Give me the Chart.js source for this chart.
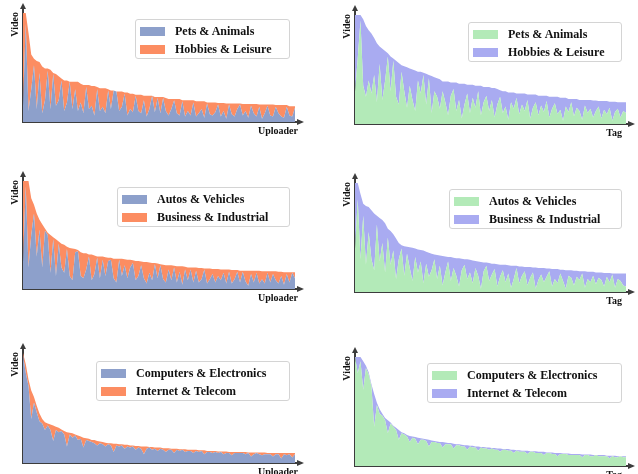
<!DOCTYPE html>
<html>
<head>
<meta charset="utf-8">
<script src="https://cdn.jsdelivr.net/npm/chart.js@4.4.1/dist/chart.umd.min.js"></script>
<style>
body{margin:0;background:#fff;width:638px;height:474px;position:relative;overflow:hidden;font-family:"Liberation Serif",serif}
canvas{position:absolute}
.lg{position:absolute;background:#fff;border:1px solid #d4d4d4;border-radius:3px;box-sizing:border-box;font-weight:bold;font-size:12px;color:#111;height:40px}
.lg div{position:absolute;left:0;height:18px;display:flex;align-items:center;white-space:nowrap}
.lg span{display:inline-block;width:25px;height:9px;margin:0 10px 0 4px}
</style>
</head>
<body>
<script>
// categories / axis titles
const pairPets = ['Pets & Animals', 'Hobbies & Leisure'];
const pairAutos = ['Autos & Vehicles', 'Business & Industrial'];
const pairComp = ['Computers & Electronics', 'Internet & Telecom'];
const xTitles = ['Uploader', 'Tag'];
const yTitle = 'Video';

// sorted totals (top of stack) and first-category counts, scaled so the largest = 100
const petsHobbiesUploaderTotal = [
  100,100,82,62,58,56,55,51,49,49, 48,45,44,42,40,38,38,37,37,37,
  37,35,34,34,34,33,33,32,31,31, 31,30,29,29,28,28,28,27,27,26,
  26,25,25,25,24,24,24,24,23,23, 23,23,22,21,21,21,21,21,20,20,
  20,20,20,19,19,19,19,18,18,18, 18,17.5,17.5,17.5,17,17,17,17,17,17,
  16.5,16.5,16.5,16.5,16.5,16.5,16,16,16,16, 16,16,15.5,15.5,15.5,15.5,15.5,14.5,14.5,14.5];
const petsUploader = [
  15,90,10,30,52,12,45,8,20,47, 12,44,15,20,38,10,18,37,12,30,
  10,18,8,32,12,15,6,30,10,14, 8,29,12,29,28,10,14,26,6,12,
  9,24,10,8,20,5,12,24,9,22, 8,22,10,6,12,20,8,6,19,5,
  10,6,18,5,8,12,4,17,7,6, 9,16,5,10,3,16,7,5,12,16,
  6,10,4,15,8,5,14,3,8,15, 6,5,14,8,5,4,14,6,5,13];

const petsHobbiesTagTotal = [
  100,100,100,96,90,86,83,79,74,71, 69,67,65,62,60,58,56,54,53,52,
  51,50,49,48,48,47,46,45,44,43, 42,41,39,39,39,38,38,38,37,37,
  37,36,36,36,35,35,35,34,34,34, 33,33,32,31,30,30,29,29,29,28,
  28,28,28,27,27,27,27,26,26,26, 26,25,25,25,25,24,24,24,23,23,
  23,23,22,22,22,22,22,21.5,21.5,21, 21,21,21,20.5,20.5,20.5,20,20,20,20];
const petsTag = [
  30,60,95,35,25,40,28,45,20,55, 22,40,62,30,58,25,18,48,30,15,
  35,22,12,40,28,45,18,42,10,30, 25,14,30,20,8,26,32,12,22,5,
  18,28,10,24,15,30,8,20,26,12, 22,6,18,25,10,16,4,20,14,24,
  9,18,12,22,5,15,20,8,17,11, 21,6,14,19,9,13,3,16,11,20,
  7,15,12,4,17,10,14,6,12,16, 5,13,9,15,3,11,14,6,12,10];

const autosBusinessUploaderTotal = [
  100,100,100,84,78,70,64,60,56,52, 50,48,46,44,42,41,39,38,37.5,37,
  36,34,33,33,32,32,31,30,30,30, 29.5,29,29,28,28,28,28,27.5,27,27,
  26.5,26,26,25.5,25,25,24.5,24,24,23.5, 23,22.5,22,22,22,21.5,21,21,21,20.5,
  20,20,20,20,19.5,19.5,19,19,19,18.5, 18.5,18.5,18,18,18,18,17.5,17.5,17.5,17,
  17,17,17,17,17,17,17,16.5,16.5,16.5, 16.5,16.5,16.5,16,16,15.5,15.5,15.5,15.5,15.5];
const autosUploader = [
  25,95,20,50,70,30,55,20,54,50, 15,46,12,42,20,15,37,12,8,34,
  35,12,10,18,30,8,14,29,10,27, 12,26,27,10,6,27,12,22,10,20,
  24,8,12,22,10,5,15,8,23,10, 22,9,6,18,8,20,6,16,4,18,
  8,18,6,17,6,9,18,5,9,14, 6,12,8,15,5,16,5,9,16,6,
  16,7,3,14,6,15,5,9,5,15, 6,14,8,5,12,4,14,6,15,10];

const autosBusinessTagTotal = [
  100,100,90,81,79,78,75,72,70,68, 66,63,58,56,53,49,45,43,42,41.5,
  41,40.5,40,39,38.5,38,37,36,35,34.5, 34,33.5,33,32.5,32,32,31.5,31,31,30.5,
  30,30,29.5,29,28.5,28,27.5,27,27,26.5, 26,26,25.5,25,25,25,24.5,24,24,24,
  23.5,23.5,23,23,23,22.5,22.5,22,22,22, 21.5,21.5,21,21,21,20.5,20.5,20,20,20,
  19.5,19.5,19,19,19,18.5,18.5,18.5,18,18, 18,17.5,17.5,17.5,17,17,17,17,17,17];
const autosTag = [
  40,85,30,70,25,55,30,20,62,28, 45,18,50,25,38,12,30,40,15,35,
  22,10,32,18,28,8,26,14,20,30, 12,24,6,18,28,10,22,15,5,20,
  25,12,18,8,22,15,3,19,24,10, 16,21,5,14,20,9,17,4,12,22,
  8,15,19,6,13,18,3,11,16,9, 14,19,5,12,8,17,10,3,15,13,
  6,14,11,17,4,12,9,15,7,13, 11,5,14,9,16,4,12,10,6,5];

const compInternetUploaderTotal = [
  100,90,76,66,60,52,45,40,37,36, 35,34,33,32,30.5,29,28,27.5,27,26,
  25,24,23,22.5,22,21,21,20,19.5,19, 18.5,18,18,17.5,17.5,17,17,16.5,16.5,16,
  16,15.5,15.5,15,15,15,14.5,14.5,14,14, 14,13.5,13.5,13.5,13,13,13,12.5,12.5,12.5,
  12,12,12,12,11.5,11.5,11.5,11,11,11, 11,10.5,10.5,10.5,10.5,10,10,10,10,10,
  10,10,9.5,9.5,9.5,9.5,9.5,9.5,9.5,9, 9,9,9,9,9,9,9,9,9,9];
const compUploader = [
  98,82,70,40,55,46,38,36,30,34, 30,20,30,28,29,26,15,26,23,25,
  21,22,14,21,20,19,18,16,18,17, 15,17,16,10,16,15,16,13,15,14,
  15,12,14,13,8,13,14,12,13,11, 13,12,10,12,12,9,12,11,12,10,
  11,11,9,11,10,11,8,10,10,9, 10,9,10,8,9,9,7,9,9,9,
  9,8,9,6,8,9,8,7,8,8, 8,6,8,8,4,8,7,8,5,8];

const compInternetTagTotal = [
  100,100,100,96,92,86,75,66,58,52, 48,44,42,40,37,35,33,31,30,28.5,
  27.5,27,26.5,26,25.5,25,24.5,24,23.5,23, 22.5,22,22,21.5,21,21,20.5,20,20,19.5,
  19,19,18.5,18.5,18,18,17.5,17.5,17,17, 16.5,16.5,16,16,15.5,15.5,15.5,15,15,14.5,
  14.5,14,14,14,13.5,13.5,13.5,13,13,13, 12.5,12.5,12.5,12,12,12,11.5,11.5,11.5,11,
  11,11,11,10.5,10.5,10.5,10.5,10,10,10, 10,10,9.5,9.5,9.5,9.5,9,9,9,9];
const compTag = [
  100,85,96,70,90,84,73,36,56,48, 46,42,30,39,36,33,24,30,29,27,
  22,26,25,20,24,24,23,18,22,22, 21,21,17,20,20,20,16,19,19,18,
  18,15,18,17,17,14,17,16,16,15, 16,15,15,13,15,15,14,14,12,14,
  13,13,13,11,13,13,12,12,12,10, 12,12,11,11,9,11,11,11,10,10,
  10,10,10,8,10,10,9,9,10,9, 9,9,9,7,9,8,8,9,8,8];

const leftColors = ['#8da0cb', '#fc8d62'];
const rightColors = ['#b3eab8', '#a9abf1'];

// page layout of the six panels (canvas box, plot area, legend box)
const panels = [
  {box:[0,0,320,160], area:[23,8,298,122], xt:0, xEnd:298, lg:[135,19,155], names:pairPets, lower:petsUploader, total:petsHobbiesUploaderTotal, colors:leftColors},
  {box:[320,0,318,160], area:[355,10,629,124], xt:1, xEnd:622, lg:[468,22,154], names:pairPets, lower:petsTag, total:petsHobbiesTagTotal, colors:rightColors},
  {box:[0,160,320,160], area:[23,176,298,289], xt:0, xEnd:298, lg:[117,187,173], names:pairAutos, lower:autosUploader, total:autosBusinessUploaderTotal, colors:leftColors},
  {box:[320,160,318,160], area:[355,178,629,292], xt:1, xEnd:622, lg:[449,189,173], names:pairAutos, lower:autosTag, total:autosBusinessTagTotal, colors:rightColors},
  {box:[0,320,320,154], area:[23,348,298,463], xt:0, xEnd:298, lg:[96,361,194], names:pairComp, lower:compUploader, total:compInternetUploaderTotal, colors:leftColors},
  {box:[320,320,318,154], area:[355,352,629,466], xt:1, xEnd:622, lg:[427,363,195], names:pairComp, lower:compTag, total:compInternetTagTotal, colors:rightColors}
];

const axisColor = '#3c3c3c';

const axisDeco = {
  id: 'axisDeco',
  afterDraw(chart, args, opts) {
    const ctx = chart.ctx, a = chart.chartArea;
    ctx.save();
    ctx.fillStyle = axisColor;
    // arrow heads
    ctx.beginPath();
    ctx.moveTo(a.left, a.top - 5);
    ctx.lineTo(a.left - 3, a.top + 1);
    ctx.lineTo(a.left + 3, a.top + 1);
    ctx.fill();
    ctx.beginPath();
    ctx.moveTo(a.right + 6, a.bottom);
    ctx.lineTo(a.right - 1, a.bottom - 3);
    ctx.lineTo(a.right - 1, a.bottom + 3);
    ctx.fill();
    // axis titles
    ctx.fillStyle = '#111';
    ctx.font = 'bold 10px "Liberation Serif"';
    ctx.textAlign = 'right';
    ctx.textBaseline = 'top';
    ctx.fillText(opts.xText, opts.xEnd, a.bottom + 4);
    ctx.translate(a.left - 8, a.top + 4);
    ctx.rotate(-Math.PI / 2);
    ctx.textBaseline = 'middle';
    ctx.fillText(opts.yText, 0, 0);
    ctx.restore();
  }
};

function makePanel(p) {
  const [bx, by, bw, bh] = p.box;
  const [al, at, ar, ab] = p.area;
  const cv = document.createElement('canvas');
  cv.width = bw; cv.height = bh;
  cv.style.left = bx + 'px'; cv.style.top = by + 'px';
  document.body.appendChild(cv);

  const chart = new Chart(cv, {
    type: 'line',
    data: {
      datasets: [
        {label: p.names[0], data: p.lower.map((v, i) => ({x: i, y: v})), backgroundColor: p.colors[0], borderColor: 'rgba(0,0,0,0)', fill: 'origin'},
        {label: p.names[1], data: p.total.map((v, i) => ({x: i, y: v})), backgroundColor: p.colors[1], borderColor: 'rgba(0,0,0,0)', fill: '-1'}
      ]
    },
    options: {
      responsive: false,
      animation: false,
      elements: {line: {borderWidth: 0, tension: 0}, point: {radius: 0, hoverRadius: 0}},
      layout: {padding: {left: al - bx, top: at - by, right: bx + bw - ar, bottom: by + bh - ab}},
      plugins: {
        legend: {display: false},
        tooltip: {enabled: false},
        axisDeco: {xText: xTitles[p.xt], yText: yTitle, xEnd: p.xEnd - bx}
      },
      scales: {
        x: {type: 'linear', min: 0, max: 100.1, ticks: {display: false}, grid: {display: false, drawTicks: false}, border: {color: axisColor, width: 2}},
        y: {min: 0, max: 104.6, ticks: {display: false}, grid: {display: false, drawTicks: false}, border: {color: axisColor, width: 2}}
      }
    },
    plugins: [axisDeco]
  });

  // legend box built from the chart's datasets
  const lg = document.createElement('div');
  lg.className = 'lg';
  lg.style.left = p.lg[0] + 'px';
  lg.style.top = p.lg[1] + 'px';
  lg.style.width = p.lg[2] + 'px';
  chart.data.datasets.forEach((ds, k) => {
    const row = document.createElement('div');
    row.style.top = (2 + k * 18) + 'px';
    const sw = document.createElement('span');
    sw.style.background = ds.backgroundColor;
    row.appendChild(sw);
    row.appendChild(document.createTextNode(ds.label));
    lg.appendChild(row);
  });
  document.body.appendChild(lg);
}

panels.forEach(makePanel);
</script>
</body>
</html>
